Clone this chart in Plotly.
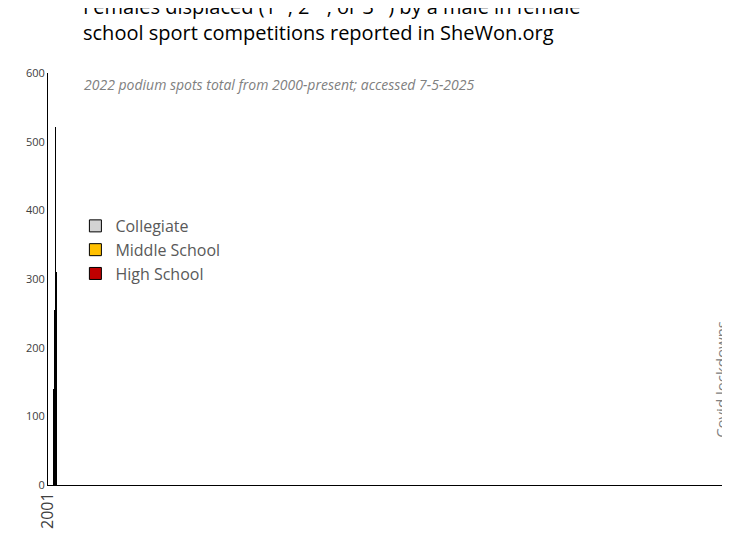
import plotly.graph_objects as go

years = [str(y) for y in range(2001, 2026)]
high_school = [0]*15 + [21, 30, 131, 187, 41, 11, 122, 374, 442, 278]
middle_school = [0]*15 + [0, 0, 0, 0, 0, 0, 1, 68, 44, 21]
collegiate = [0]*15 + [0, 0, 8, 67, 9, 43, 27, 51, 35, 11]

fig = go.Figure()
line = dict(color="black", width=1)
fig.add_trace(go.Bar(x=years, y=high_school, name="High School", marker=dict(color="#C00000", line=line), legendgroup="a"))
fig.add_trace(go.Bar(x=years, y=middle_school, name="Middle School", marker=dict(color="#FFC000", line=line), legendgroup="b"))
fig.add_trace(go.Bar(x=years, y=collegiate, name="Collegiate", marker=dict(color="#D3D3D3", line=line), legendgroup="c"))

fig.update_layout(
    width=730, height=555,
    barmode="stack", bargap=0.45,
    plot_bgcolor="white", paper_bgcolor="white",
    font=dict(family="Open Sans, sans-serif", color="#595959"),
    margin=dict(l=40, r=5, t=65, b=78),
    showlegend=True,
    title=dict(text="Females displaced (1<sup>st</sup>, 2<sup>nd</sup>, or 3<sup>rd</sup>) by a male in female<br>school sport competitions reported in SheWon.org",
               xref="container", yref="container", x=75/730, y=0.99, xanchor="left", yanchor="top",
               font=dict(size=20, color="black")),
    legend=dict(x=0.04, y=0.67, xanchor="left", yanchor="top", traceorder="reversed",
                font=dict(size=16, color="#595959"), tracegroupgap=16, bgcolor="rgba(0,0,0,0)"),
    xaxis=dict(type="category", tickangle=-90, tickfont=dict(size=16, color="#404040"), showline=True,
               linecolor="black", ticks=""),
    yaxis=dict(range=[0, 600], dtick=100, tickfont=dict(size=11, color="#404040"),
               showline=True, linecolor="black", showgrid=False, zeroline=False, ticks=""),
    annotations=[
        dict(text="<i>2022 podium spots total from 2000-present; accessed 7-5-2025</i>",
             xref="paper", yref="paper", x=0.05, y=1.0, xanchor="left", yanchor="top",
             showarrow=False, font=dict(size=14, color="#808080")),
        dict(text="Covid lockdowns", x="2020", y=65, yanchor="bottom", textangle=-90,
             showarrow=False, font=dict(size=15, color="#808080")),
    ],
)
fig.write_html("out.html")
